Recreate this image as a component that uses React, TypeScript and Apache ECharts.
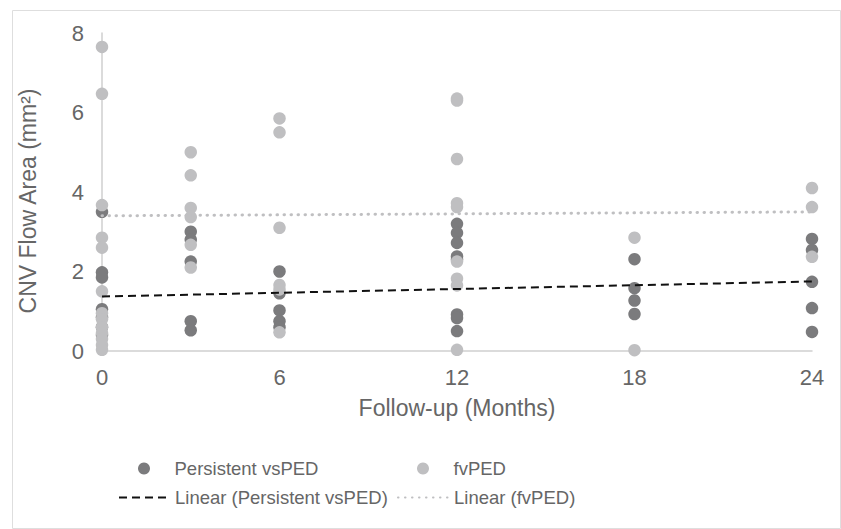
import React, { useEffect, useRef } from "react";
import * as echarts from "echarts";

const months = [0, 3, 6, 12, 18, 24];
const persistentByMonth = [
  [3.5, 1.98, 1.85, 1.05, 0.85, 0.6, 0.4],
  [3.0, 2.8, 2.25, 0.75, 0.52],
  [2.0, 1.45, 1.02, 0.75, 0.6],
  [3.2, 2.97, 2.72, 2.38, 2.3, 0.92, 0.83, 0.5],
  [2.31, 1.58, 1.27, 0.93],
  [2.82, 2.54, 1.74, 1.08, 0.48],
];
const fvpedByMonth = [
  [7.65, 6.47, 3.67, 2.85, 2.6, 1.5, 0.95, 0.8, 0.6, 0.45, 0.3, 0.15, 0.03],
  [5.0, 4.42, 3.6, 3.37, 2.67, 2.1],
  [5.85, 5.5, 3.1, 1.66, 1.55, 0.47],
  [6.35, 6.3, 4.83, 3.72, 3.62, 2.25, 1.82, 1.65, 0.03],
  [2.85, 0.02],
  [4.1, 3.62, 2.37],
];
const trendPersistent = [
  [0, 1.37],
  [24, 1.75],
];
const trendFvped = [
  [0, 3.4],
  [24, 3.5],
];
const yTicks = [0, 2, 4, 6, 8];
const xTicks = [0, 6, 12, 18, 24];

const toPairs = (byMonth: number[][]) =>
  byMonth.flatMap((vals, i) => vals.map((v) => [months[i], v]));

export default function App() {
  const ref = useRef<HTMLDivElement>(null);
  useEffect(() => {
    if (!ref.current) return;
    const chart = echarts.init(ref.current, null, { renderer: "svg" });
    const textColor = "#666666";
    const font = "Liberation Sans, Arial, sans-serif";
    const dark = "#7b7b7d";
    const light = "#bfbfc1";
    const legendBase = {
      orient: "horizontal",
      itemWidth: 51,
      itemHeight: 12,
      itemGap: 5,
      textStyle: { color: textColor, fontSize: 18.5, fontFamily: font },
      selectedMode: false,
    };
    chart.setOption({
      animation: false,
      backgroundColor: "#ffffff",
      grid: { left: 102, right: 29, top: 33, bottom: 178 },
      xAxis: {
        type: "value",
        min: xTicks[0],
        max: xTicks[xTicks.length - 1],
        interval: 6,
        axisLine: { show: true, lineStyle: { color: "#cfcfcf", width: 1.5 } },
        axisTick: { show: false },
        splitLine: { show: false },
        axisLabel: { color: textColor, fontSize: 22, fontFamily: font, margin: 15 },
      },
      yAxis: {
        type: "value",
        min: yTicks[0],
        max: yTicks[yTicks.length - 1],
        interval: 2,
        axisLine: { show: true, lineStyle: { color: "#cfcfcf", width: 1.5 } },
        axisTick: { show: false },
        splitLine: { show: false },
        axisLabel: { color: textColor, fontSize: 22, fontFamily: font, margin: 18 },
      },
      legend: [
        { ...legendBase, left: 133, top: 454, data: [{ name: "Persistent vsPED", icon: "circle" }] },
        { ...legendBase, left: 412, top: 454, data: [{ name: "fvPED", icon: "circle" }] },
        { ...legendBase, left: 113, top: 483, itemStyle: { opacity: 0 }, data: ["Linear (Persistent vsPED)"] },
        { ...legendBase, left: 392, top: 483, itemStyle: { opacity: 0 }, data: ["Linear (fvPED)"] },
      ],
      graphic: [
        {
          type: "rect",
          left: 10,
          top: 8,
          shape: { width: 828, height: 518 },
          style: { fill: "none", stroke: "#dedede", lineWidth: 1 },
          silent: true,
          z: -10,
        },
        {
          type: "text",
          x: 28,
          y: 201,
          rotation: Math.PI / 2,
          style: {
            text: "CNV Flow Area (mm²)",
            fill: textColor,
            font: `23px ${font}`,
            align: "center",
            verticalAlign: "middle",
          },
        },
        {
          type: "text",
          x: 457,
          y: 408,
          style: {
            text: "Follow-up (Months)",
            fill: textColor,
            font: `23px ${font}`,
            align: "center",
            verticalAlign: "middle",
          },
        },
      ],
      series: [
        {
          name: "Persistent vsPED",
          type: "scatter",
          data: toPairs(persistentByMonth),
          symbolSize: 12.5,
          itemStyle: { color: dark, opacity: 1 },
          clip: false,
          z: 2,
        },
        {
          name: "fvPED",
          type: "scatter",
          data: toPairs(fvpedByMonth),
          symbolSize: 12.5,
          itemStyle: { color: light, opacity: 1 },
          clip: false,
          z: 3,
        },
        {
          name: "Linear (Persistent vsPED)",
          type: "line",
          data: trendPersistent,
          symbol: "none",
          lineStyle: { color: "#111111", width: 2, type: [8, 5] },
          itemStyle: { color: "#111111" },
          z: 4,
        },
        {
          name: "Linear (fvPED)",
          type: "line",
          data: trendFvped,
          symbol: "none",
          lineStyle: { color: light, width: 3, type: [0.5, 6.5], cap: "round" },
          itemStyle: { color: light },
          z: 4,
        },
      ],
    });
    return () => chart.dispose();
  }, []);
  return (
    <div
      ref={ref}
      style={{ position: "fixed", left: 0, top: 0, width: 841, height: 529 }}
    />
  );
}
